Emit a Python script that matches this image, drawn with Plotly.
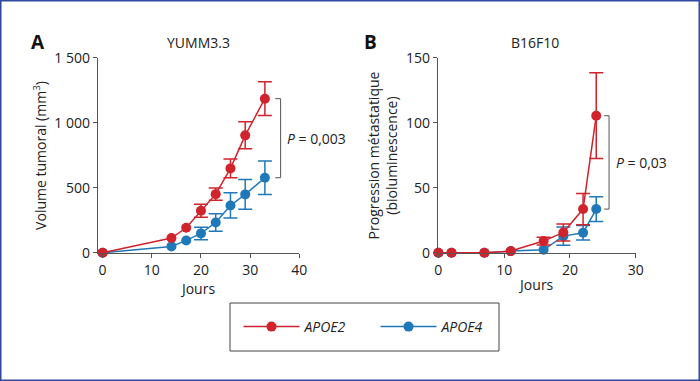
import numpy as np
import plotly.graph_objects as go

# ---------------- data ----------------
# Panel A : YUMM3.3 tumour volume (mm3)
a_days = [0, 14, 17, 20, 23, 26, 29, 33]
a_apoe2 = [0, 113, 192, 323, 451, 649, 903, 1185]
a_apoe2_err = [np.nan, np.nan, np.nan, 50, 48, 72, 104, 130]
a_apoe4 = [0, 49, 95, 149, 233, 364, 449, 577]
a_apoe4_err = [np.nan, np.nan, np.nan, 48, 67, 97, 114, 128]

# Panel B : B16F10 metastatic progression (bioluminescence)
b_days = [0, 2, 7, 11, 16, 19, 22, 24]
b_apoe2 = [0, 0, 0, 1.3, 9, 15.6, 33.6, 105.4]
b_apoe2_err = [np.nan, np.nan, np.nan, np.nan, 3, 6.5, 12, 33]
b_apoe4 = [0, 0, 0, 1.3, 2.3, 12.8, 15.4, 33.6]
b_apoe4_err = [np.nan, np.nan, np.nan, np.nan, np.nan, 7, 5.5, 9.5]

a_yticks = [0, 500, 1000, 1500]
a_yticklabels = ["0", "500", "1 000", "1 500"]
b_yticks = [0, 50, 100, 150]
b_yticklabels = ["0", "50", "100", "150"]
a_xticks = [0, 10, 20, 30, 40]
b_xticks = [0, 10, 20, 30]

a_pvalue = "<i>P</i> = 0,003"
b_pvalue = "<i>P</i> = 0,03"

RED = "#d0232b"
BLUE = "#1f78b8"
FONT = "Open Sans"
W, H = 700, 381

fig = go.Figure()

def add_series(x, y, err, color, name, xa, ya, show):
    fig.add_trace(go.Scatter(
        x=x, y=y, mode="lines+markers", name=name, showlegend=show,
        xaxis=xa, yaxis=ya,
        line=dict(color=color, width=1.5),
        marker=dict(color=color, size=10),
        error_y=dict(type="data", array=np.array(err, dtype=float),
                     color=color, thickness=1.5, width=7, visible=True),
        cliponaxis=False,
        legendrank=2 if "4" in name else 1,
    ))

add_series(a_days, a_apoe4, a_apoe4_err, BLUE, "<i>APOE4</i>", "x", "y", True)
add_series(a_days, a_apoe2, a_apoe2_err, RED, "<i>APOE2</i>", "x", "y", True)
add_series(b_days, b_apoe4, b_apoe4_err, BLUE, "<i>APOE4</i>", "x2", "y2", False)
add_series(b_days, b_apoe2, b_apoe2_err, RED, "<i>APOE2</i>", "x2", "y2", False)

def px_x(p):
    return p / W

def px_y(p):
    return (H - p) / H

axis_common = dict(showgrid=False, zeroline=False, showline=True, linecolor="#555555",
                   linewidth=1, ticks="outside", ticklen=4, tickcolor="#555555",
                   tickfont=dict(family=FONT, size=14, color="#222222"), automargin=False)

ydom = [px_y(253.3), px_y(57.7)]
fig.update_layout(
    width=W, height=H,
    margin=dict(l=0, r=0, t=0, b=0),
    paper_bgcolor="white", plot_bgcolor="white",
    font=dict(family=FONT, size=14, color="#222222"),
    xaxis=dict(domain=[px_x(97.7), px_x(299.3)], range=[-1, 40], tickvals=a_xticks,
               title=dict(text="Jours", font=dict(family=FONT, size=14), standoff=2),
               anchor="y", **axis_common),
    yaxis=dict(domain=ydom, range=[-4, 1500], tickvals=a_yticks, ticktext=a_yticklabels,
               title=dict(text="Volume tumoral (mm<sup>3</sup>)", font=dict(family=FONT, size=14), standoff=4),
               anchor="x", **axis_common),
    xaxis2=dict(domain=[px_x(437.7), px_x(635.7)], range=[-0.1, 30], tickvals=b_xticks,
                title=dict(text="Jours", font=dict(family=FONT, size=14), standoff=2),
                anchor="y2", **axis_common),
    yaxis2=dict(domain=ydom, range=[-0.4, 150], tickvals=b_yticks, ticktext=b_yticklabels,
                title=dict(text="Progression métastatique<br>(bioluminescence)",
                           font=dict(family=FONT, size=14), standoff=4),
                anchor="x2", **axis_common),
    legend=dict(orientation="h", x=px_x(375.5), y=px_y(327), xanchor="center", yanchor="middle",
                font=dict(family=FONT, size=14, color="#222222"), itemwidth=56,
                entrywidth=66, entrywidthmode="pixels",
                bgcolor="rgba(0,0,0,0)", borderwidth=0),
)

# panel titles and letters
anns = [
    dict(text="<b>A</b>", x=px_x(38), y=px_y(42), font=dict(size=19, family=FONT, color="#111111")),
    dict(text="<b>B</b>", x=px_x(370), y=px_y(42), font=dict(size=19, family=FONT, color="#111111")),
    dict(text="YUMM3.3", x=px_x(198.5), y=px_y(43), font=dict(size=14, family=FONT)),
    dict(text="B16F10", x=px_x(535), y=px_y(43), font=dict(size=14, family=FONT)),
]
for a in anns:
    fig.add_annotation(xref="paper", yref="paper", showarrow=False, xanchor="center", yanchor="middle", **a)

# significance brackets (derived from last values of each series)
def bracket(xr, yr, xlast, ytop, ybot, gap, tick, text, textgap):
    xv = xlast + gap
    fig.add_shape(type="path", xref=xr, yref=yr,
                  path=f"M {xv - tick} {ytop} L {xv} {ytop} L {xv} {ybot} L {xv - tick} {ybot}",
                  line=dict(color="#555555", width=1))
    fig.add_annotation(xref=xr, yref=yr, x=xv + textgap, y=(ytop + ybot) / 2, text=text,
                       showarrow=False, xanchor="left", yanchor="middle",
                       font=dict(family=FONT, size=14, color="#222222"))

bracket("x", "y", a_days[-1], a_apoe2[-1], a_apoe4[-1], 3.2, 1.1, a_pvalue, 0.9)
bracket("x2", "y2", b_days[-1], b_apoe2[-1], b_apoe4[-1], 1.95, 0.75, b_pvalue, 0.7)

# legend box and outer frame
fig.add_shape(type="rect", xref="paper", yref="paper",
              x0=px_x(230), x1=px_x(499), y0=px_y(351), y1=px_y(303),
              line=dict(color="#444444", width=1))
fig.add_shape(type="rect", xref="paper", yref="paper", x0=0, x1=1, y0=0, y1=1,
              line=dict(color="#2f4a9f", width=3))

fig.write_html("out.html", config={"displayModeBar": False},
               post_script="document.body.style.margin='0';document.body.style.overflow='hidden';")
